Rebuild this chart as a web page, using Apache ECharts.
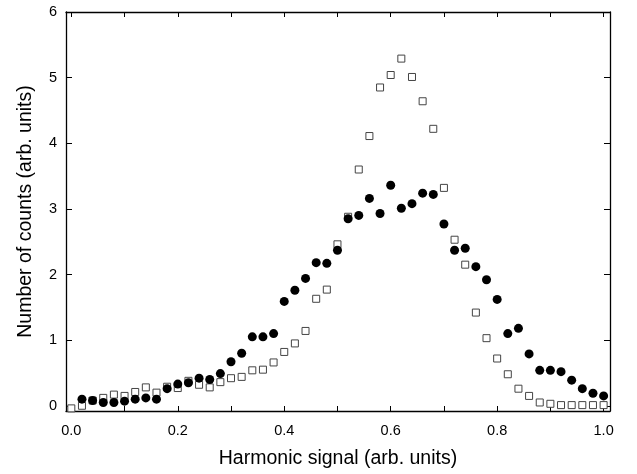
<!DOCTYPE html>
<html>
<head>
<meta charset="utf-8">
<script src="https://cdn.jsdelivr.net/npm/echarts@6/dist/echarts.min.js"></script>
<style>html,body{margin:0;padding:0;background:#fff}#c{width:637px;height:474px}</style>
</head>
<body>
<div id="c"></div>
<script>
var xTickLabels = [0.0, 0.2, 0.4, 0.6, 0.8, 1.0];
var xTicks = [0, 0.1, 0.2, 0.3, 0.4, 0.5, 0.6, 0.7, 0.8, 0.9, 1.0];
var yTicks = [0, 1, 2, 3, 4, 5, 6];

var circleX = [0.02,0.04,0.06,0.08,0.10,0.12,0.14,0.16,0.18,0.20,0.22,0.24,0.26,0.28,0.30,0.32,0.34,0.36,0.38,0.40,0.42,0.44,0.46,0.48,0.50,0.52,0.54,0.56,0.58,0.60,0.62,0.64,0.66,0.68,0.70,0.72,0.74,0.76,0.78,0.80,0.82,0.84,0.86,0.88,0.90,0.92,0.94,0.96,0.98,1.00];
var circleY = [0.10,0.08,0.05,0.05,0.07,0.10,0.12,0.10,0.26,0.33,0.35,0.42,0.40,0.49,0.67,0.80,1.05,1.05,1.10,1.59,1.76,1.94,2.18,2.17,2.37,2.85,2.90,3.16,2.93,3.36,3.01,3.08,3.24,3.22,2.77,2.37,2.40,2.12,1.92,1.62,1.10,1.18,0.79,0.54,0.54,0.52,0.39,0.26,0.19,0.15];

var squareX = [0.00,0.02,0.04,0.06,0.08,0.10,0.12,0.14,0.16,0.18,0.20,0.22,0.24,0.26,0.28,0.30,0.32,0.34,0.36,0.38,0.40,0.42,0.44,0.46,0.48,0.50,0.52,0.54,0.56,0.58,0.60,0.62,0.64,0.66,0.68,0.70,0.72,0.74,0.76,0.78,0.80,0.82,0.84,0.86,0.88,0.90,0.92,0.94,0.96,0.98,1.00];
var squareY = [-0.04,0.00,0.08,0.12,0.17,0.15,0.21,0.28,0.20,0.29,0.27,0.38,0.32,0.28,0.36,0.42,0.44,0.54,0.55,0.66,0.82,0.95,1.14,1.63,1.77,2.46,2.88,3.60,4.11,4.85,5.04,5.29,5.01,4.64,4.22,3.32,2.53,2.15,1.42,1.03,0.72,0.48,0.26,0.15,0.05,0.03,0.01,0.01,0.01,0.01,0.01];

function pairs(xs, ys) { return xs.map(function (x, i) { return [x, ys[i]]; }); }

var font = 'Liberation Sans, Arial, sans-serif';
var chart = echarts.init(document.getElementById('c'), null, {renderer: 'canvas'});
chart.setOption({
  animation: false,
  backgroundColor: '#fff',
  grid: {left: 66, right: 27, top: 12, bottom: 63, containLabel: false},
  xAxis: [{
    type: 'value', min: -0.01, max: 1.012, position: 'bottom',
    name: 'Harmonic signal (arb. units)', nameLocation: 'middle', nameGap: 38,
    nameTextStyle: {fontFamily: font, fontSize: 19.5, color: '#000'},
    axisLine: {show: true, onZero: false, lineStyle: {color: '#000', width: 1.3}},
    axisTick: {show: true, inside: true, length: 5, customValues: xTicks, lineStyle: {color: '#000'}},
    axisLabel: {customValues: xTickLabels, margin: 12, fontFamily: font, fontSize: 14.5, color: '#000',
      formatter: function (v) { return v.toFixed(1); }},
    splitLine: {show: false}
  }, {
    type: 'value', min: -0.01, max: 1.012, position: 'top',
    axisLine: {show: true, onZero: false, lineStyle: {color: '#000', width: 1.3}},
    axisTick: {show: true, inside: true, length: 5, customValues: xTicks, lineStyle: {color: '#000'}},
    axisLabel: {show: false},
    splitLine: {show: false}
  }],
  yAxis: [{
    type: 'value', min: -0.08, max: 6, position: 'left',
    name: 'Number of counts (arb. units)', nameLocation: 'middle', nameGap: 30,
    nameTextStyle: {fontFamily: font, fontSize: 19.5, color: '#000'},
    axisLine: {show: true, onZero: false, lineStyle: {color: '#000', width: 1.3}},
    axisTick: {show: true, inside: true, length: 6, customValues: yTicks, lineStyle: {color: '#000'}},
    axisLabel: {customValues: yTicks, margin: 9, fontFamily: font, fontSize: 14.5, color: '#000'},
    splitLine: {show: false}
  }, {
    type: 'value', min: -0.08, max: 6, position: 'right',
    axisLine: {show: true, onZero: false, lineStyle: {color: '#000', width: 1.3}},
    axisTick: {show: true, inside: true, length: 6, customValues: yTicks, lineStyle: {color: '#000'}},
    axisLabel: {show: false},
    splitLine: {show: false}
  }],
  series: [{
    type: 'scatter', xAxisIndex: 0, yAxisIndex: 0, clip: false,
    data: pairs(squareX, squareY),
    symbol: 'rect', symbolSize: 7,
    itemStyle: {color: '#fff', borderColor: '#444', borderWidth: 1, opacity: 1},
    z: 2
  }, {
    type: 'scatter', xAxisIndex: 0, yAxisIndex: 0, clip: false,
    data: pairs(circleX, circleY),
    symbol: 'circle', symbolSize: 9,
    itemStyle: {color: '#000', opacity: 1},
    z: 3
  }]
});
</script>
</body>
</html>
